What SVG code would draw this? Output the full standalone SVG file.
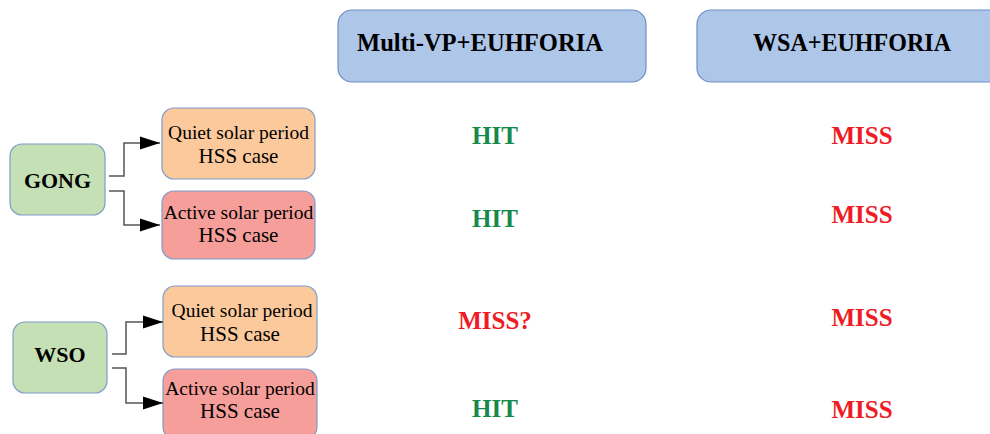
<svg xmlns="http://www.w3.org/2000/svg" width="990" height="434" viewBox="0 0 990 434">
<style>
.hdr{fill:#aec6e8;stroke:#6f8fc4;stroke-width:1.2}
.src{fill:#c5e0b4;stroke:#7f9cc8;stroke-width:1.2}
.quiet{fill:#fbc99c;stroke:#7f9cc8;stroke-width:1.2}
.active{fill:#f59e9a;stroke:#7f9cc8;stroke-width:1.2}
.ht{font-family:"Liberation Serif","Times New Roman",serif;font-weight:bold;font-size:26px;fill:#000}
.st{font-family:"Liberation Serif","Times New Roman",serif;font-weight:bold;font-size:22px;fill:#000;text-anchor:middle}
.l1{font-family:"Liberation Serif","Times New Roman",serif;font-size:19.5px;fill:#000;text-anchor:middle}
.l2{font-family:"Liberation Serif","Times New Roman",serif;font-size:21px;fill:#000;text-anchor:middle}
.hit{font-family:"Liberation Serif","Times New Roman",serif;font-weight:bold;font-size:25px;fill:#168a4a;text-anchor:middle}
.miss{font-family:"Liberation Serif","Times New Roman",serif;font-weight:bold;font-size:25px;fill:#ee1c25;text-anchor:middle}
.conn{fill:none;stroke:#555;stroke-width:1.5}
</style>
<defs>
<marker id="arr" markerUnits="userSpaceOnUse" markerWidth="20" markerHeight="14" refX="20" refY="7" orient="auto">
<path d="M0,0.5 L20,7 L0,13.5 z" fill="#000"/>
</marker>
</defs>
<rect width="990" height="434" fill="#fff"/>
<g id="hdr-multivp">
<rect class="hdr" x="338" y="10" width="308" height="72" rx="14"/>
<text class="ht" x="357" y="51" textLength="246" lengthAdjust="spacingAndGlyphs">Multi-VP+EUHFORIA</text>
</g>
<g id="hdr-wsa">
<rect class="hdr" x="697" y="10" width="310" height="72" rx="14"/>
<text class="ht" x="753" y="51" textLength="198" lengthAdjust="spacingAndGlyphs">WSA+EUHFORIA</text>
</g>
<g id="gong">
<rect class="src" x="10" y="144" width="95" height="71" rx="12"/>
<text class="st" x="57.5" y="188">GONG</text>
</g>
<g id="wso">
<rect class="src" x="13" y="322" width="94" height="71" rx="12"/>
<text class="st" x="60" y="362">WSO</text>
</g>
<g id="gong-quiet">
<rect class="quiet" x="162" y="108" width="153" height="71" rx="12"/>
<text class="l1" x="238.5" y="139">Quiet solar period</text>
<text class="l2" x="238.5" y="163">HSS case</text>
</g>
<g id="gong-active">
<rect class="active" x="162" y="191" width="153" height="68" rx="12"/>
<text class="l1" x="238.5" y="219">Active solar period</text>
<text class="l2" x="238.5" y="242">HSS case</text>
</g>
<g id="wso-quiet">
<rect class="quiet" x="163" y="286" width="154" height="71" rx="12"/>
<text class="l1" x="242" y="317">Quiet solar period</text>
<text class="l2" x="240" y="341">HSS case</text>
</g>
<g id="wso-active">
<rect class="active" x="163" y="369" width="154" height="70" rx="12"/>
<text class="l1" x="240" y="395">Active solar period</text>
<text class="l2" x="240" y="418">HSS case</text>
</g>
<g id="connectors">
<path class="conn" d="M109,176 H124 V143 H160" marker-end="url(#arr)"/>
<path class="conn" d="M109,191 H124 V225 H160" marker-end="url(#arr)"/>
<path class="conn" d="M112,354 H126 V322 H163" marker-end="url(#arr)"/>
<path class="conn" d="M112,368 H126 V403 H163" marker-end="url(#arr)"/>
</g>
<g id="results">
<text class="hit" x="495" y="144">HIT</text>
<text class="hit" x="495" y="227">HIT</text>
<text class="miss" x="495" y="329">MISS?</text>
<text class="hit" x="495" y="417">HIT</text>
<text class="miss" x="862" y="144">MISS</text>
<text class="miss" x="862" y="223">MISS</text>
<text class="miss" x="862" y="326">MISS</text>
<text class="miss" x="862" y="418">MISS</text>
</g>
</svg>
